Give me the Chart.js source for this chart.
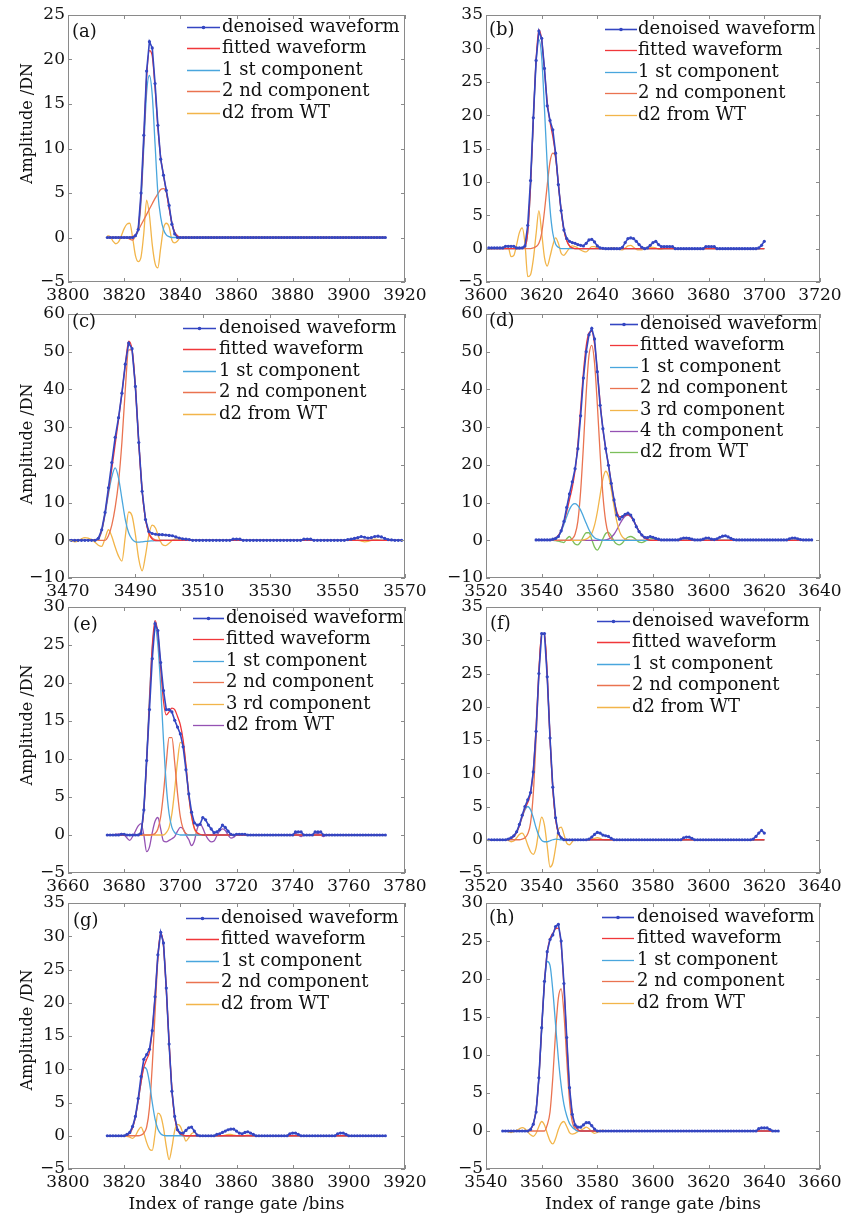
<!DOCTYPE html>
<html>
<head>
<meta charset="utf-8">
<script src="https://cdn.jsdelivr.net/npm/chart.js@4.4.0/dist/chart.umd.min.js"></script>
<style>
  body { margin: 0; background: #fff; }
  #page { position: relative; width: 842px; height: 1217px; overflow: hidden; background: #fff; }
  #page canvas { position: absolute; }
</style>
</head>
<body>
<div id="page"></div>
<script>
// ---------- data (bins / DN) ----------

const labelsStd = ['denoised waveform', 'fitted waveform', '1 st component', '2 nd component', 'd2 from WT'];
const labelsD = ['denoised waveform', 'fitted waveform', '1 st component', '2 nd component', '3 rd component', '4 th component', 'd2 from WT'];
const labelsE = ['denoised waveform', 'fitted waveform', '1 st component', '2 nd component', '3 rd component', 'd2 from WT'];

// (a)
const xTicksA = [3800, 3820, 3840, 3860, 3880, 3900, 3920];
const startA = 3814;
const denoisedA = [
  0, 0, 0, 0, 0, 0, 0, 0, 0, 0,
  0.2, 0.9, 5.0, 11.5, 18.7, 22.0, 21.3, 17.3, 12.6, 8.8,
  7.0, 5.3, 3.6, 1.5, 0.4, 0, 0, 0, 0, 0,
  0, 0, 0, 0, 0, 0, 0, 0, 0, 0,
  0, 0, 0, 0, 0, 0, 0, 0, 0, 0,
  0, 0, 0, 0, 0, 0, 0, 0, 0, 0,
  0, 0, 0, 0, 0, 0, 0, 0, 0, 0,
  0, 0, 0, 0, 0, 0, 0, 0, 0, 0,
  0, 0, 0, 0, 0, 0, 0, 0, 0, 0,
  0, 0, 0, 0, 0, 0, 0, 0, 0, 0
];
const fitA0 = 3822;
const fitA = [0, 0.1, 0.3, 1.0, 4.6, 11.0, 18.0, 21.0, 20.4, 16.8, 12.4, 9.0, 7.0, 5.2, 3.3, 1.6, 0.6, 0.2, 0];
const comp1A0 = 3823;
const comp1A = [0, 0.2, 0.8, 4.0, 10.2, 16.3, 18.2, 16.0, 10.5, 5.0, 2.3, 0.9, 0.3, 0.1, 0];
const comp2A0 = 3821;
const comp2A = [0, -0.2, -0.3, 0.2, 0.8, 1.4, 2.0, 2.6, 3.2, 3.8, 4.4, 4.9, 5.4, 5.5, 5.1, 3.4, 1.6, 0.5, 0.1, 0];
const d2A0 = 3814;
const d2A = [0.2, 0.1, -0.4, -0.7, -0.5, 0.2, 1.0, 1.5, 1.6, 0.0, -2.0, -2.7, -2.2, 0.5, 4.2, 2.5, -0.8, -2.9, -3.4, -1.2, 1.0, 1.6, 1.2, -0.3, -0.6, -0.4, 0];

// (b)  (the original axis prints "2640" for 3640)
const xTicksB = [3600, 3620, 3640, 3660, 3680, 3700, 3720];
const xLabelsB = ['3600', '3620', '2640', '3660', '3680', '3700', '3720'];
const startB = 3601;
const denoisedB = [
  0.1, 0.1, 0.1, 0.1, 0.1, 0.1, 0.35, 0.35, 0.35, 0.35,
  0.1, 0.1, 0.1, 0.4, 3.5, 10.2, 19.6, 28.2, 32.6, 31.5,
  27.0, 21.4, 19.2, 17.8, 14.3, 9.6, 5.7, 2.8, 1.5, 1.1,
  0.9, 0.8, 0.6, 0.5, 0.4, 0.8, 1.3, 1.4, 1.0, 0.4,
  0.1, 0.05, 0, 0, 0, 0, 0, 0, 0.2, 0.9,
  1.5, 1.6, 1.5, 1.1, 0.6, 0.2, 0, 0.1, 0.5, 0.9,
  1.1, 0.6, 0.3, 0.3, 0.3, 0.3, 0.3, 0, 0, 0,
  0, 0, 0, 0, 0, 0, 0, 0, 0.3, 0.3,
  0.3, 0.3, 0, 0, 0, 0, 0, 0, 0, 0,
  0, 0, 0, 0, 0, 0, 0, 0.1, 0.5, 1.1
];
const fitB0 = 3612;
const fitB = [0, 0.1, 0.3, 2.5, 9.3, 19.2, 28.3, 32.8, 31.3, 26.8, 22.0, 19.0, 16.8, 14.0, 9.7, 5.7, 2.8, 1.2, 0.4, 0.1, 0];
const comp1B0 = 3612;
const comp1B = [0, 0.1, 0.3, 2.5, 9.2, 19.0, 28.0, 31.3, 28.7, 21.0, 12.5, 6.0, 2.3, 0.7, 0.2, 0];
const comp2B0 = 3616;
const comp2B = [0, 0.1, 0.3, 0.8, 2.3, 5.6, 9.5, 13.0, 14.3, 13.6, 9.6, 5.7, 2.8, 1.2, 0.4, 0.1, 0];
const d2B0 = 3601;
const d2B = [
  0, 0, 0.1, 0.1, 0.1, 0.2, 0.3, 0.2, -1.2, -1.0,
  0.6, 2.4, 3.1, 0.8, -4.2, -3.9, -1.6, 2.2, 5.7, 2.4,
  -1.3, -2.6, -1.2, 0.5, 1.6, 0.8, -0.7, -1.0, -0.5, 0.1,
  0.4, 0.3, 0.1, -0.2, -0.4, -0.5, -0.1, 0.3, 0.3, 0.1,
  0, 0, 0, 0, 0.1, 0.1, 0, -0.1, -0.2, 0.1,
  0.4, 0.5, 0.2, -0.1, -0.2, -0.2, 0, 0.1, 0.2, 0.2,
  0.1, -0.1, -0.1, 0, 0, 0, 0, 0, 0, 0
];

// (c)
const xTicksC = [3470, 3490, 3510, 3530, 3550, 3570];
const startC = 3470;
const denoisedC = [
  0, 0, 0, 0, 0, 0, 0, 0, 0, 0.5,
  2.8, 7.4, 13.9, 20.6, 27.3, 32.5, 39.0, 46.7, 52.3, 50.8,
  40.8, 25.9, 13.0, 5.5, 2.3, 1.8, 1.6, 1.5, 1.5, 1.4,
  1.3, 1.2, 0.9, 0.6, 0.4, 0.3, 0.2, 0, 0, 0,
  0, 0, 0, 0, 0, 0, 0, 0, 0, 0.3,
  0.3, 0.3, 0, 0, 0, 0, 0, 0, 0, 0,
  0, 0, 0, 0, 0, 0, 0, 0, 0, 0,
  0.3, 0.3, 0.3, 0, 0, 0, 0, 0, 0, 0,
  0, 0, 0, 0.2, 0.3, 0.5, 0.7, 1.0, 0.8, 0.6,
  0.7, 1.0, 1.1, 0.9, 0.5, 0.2, 0.1, 0, 0, 0
];
const fitC0 = 3477;
const fitC = [0, 0.1, 0.5, 2.6, 7.2, 13.0, 19.0, 25.5, 32.0, 39.0, 46.5, 52.8, 50.5, 40.5, 26.0, 13.2, 5.6, 1.8, 0.3, -0.1, -0.1, 0];
const comp1C0 = 3477;
const comp1C = [0, 0, 0.3, 2.4, 6.8, 12.2, 16.8, 19.2, 16.5, 11.0, 5.5, 2.0, 0.3, -0.4, -0.5, -0.4, -0.3, -0.2, -0.15, -0.1, -0.1, 0];
const comp2C0 = 3480;
const comp2C = [0, 0, 1.2, 4.0, 8.7, 15.5, 26.0, 40.0, 50.5, 50.5, 40.5, 26.0, 13.2, 5.6, 2.0, 0.6, 0.1, 0];
const d2C0 = 3470;
const d2C = [
  0, -0.1, -0.4, -0.2, 0.4, 0.7, 0.6, 0.2, -0.5, -1.3,
  -1.6, 0.5, 2.8, 1.0, -1.8, -4.2, -5.5, 1.0, 7.5, 6.5,
  1.5, -5.0, -8.1, -4.0, 1.5, 4.0, 3.2, 0.6, -1.1, -1.4,
  -0.8, 0, 0.3, 0.3, 0.1, 0, 0, 0, 0, 0,
  0, 0, 0, 0, 0, 0, 0, 0, 0.1, 0.2,
  0.2, 0, 0, 0, 0, 0, 0, 0, 0, 0,
  0, 0, 0, 0, 0, 0, 0, 0, 0, 0,
  0.2, 0.1, 0, 0, 0, 0, 0, 0, 0, 0,
  0, 0, 0, 0, 0, 0, 0, -0.2, -0.4, -0.3,
  0, 0.3, 0.2, 0, 0, 0, 0, 0, 0, 0
];

// (d)
const xTicksD = [3520, 3540, 3560, 3580, 3600, 3620, 3640];
const startD = 3538;
const denoisedD = [
  0.1, 0.1, 0.1, 0.1, 0.1, 0.1, 0.3, 0.5, 1.0, 2.5,
  5.0, 8.7, 12.3, 15.5, 19.0, 24.3, 33.0, 43.0, 50.0, 54.5,
  56.2, 53.4, 44.7, 35.8, 29.6, 24.3, 19.9, 15.1, 10.7, 6.7,
  5.6, 6.3, 6.9, 7.2, 6.7, 5.4, 3.6, 2.3, 1.4, 0.8,
  0.7, 1.0, 0.8, 0.5, 0.3, 0.1, 0.1, 0.1, 0.1, 0.1,
  0.1, 0.1, 0.4, 0.6, 0.6, 0.5, 0.3, 0.1, 0.1, 0.1,
  0.3, 0.6, 0.6, 0.3, 0.2, 0.4, 0.8, 1.1, 1.2, 0.9,
  0.5, 0.2, 0.1, 0.1, 0.1, 0.1, 0.1, 0.1, 0.1, 0.1,
  0.1, 0.1, 0.1, 0.1, 0.1, 0.1, 0.1, 0.1, 0.1, 0.1,
  0.1, 0.4, 0.6, 0.6, 0.4, 0.2, 0.1, 0.1, 0.1, 0.1
];
const fitD0 = 3542;
const fitD = [0, 0.1, 0.2, 0.6, 1.3, 2.6, 4.8, 7.6, 10.8, 14.0, 18.5, 25.5, 35.0, 44.5, 51.5, 55.0, 55.4, 52.0, 45.0, 36.5,
  29.5, 24.3, 20.0, 15.2, 10.7, 7.6, 6.3, 6.3, 6.6, 6.8, 6.3, 5.2, 3.8, 2.4, 1.3, 0.6, 0.2, 0];
const comp1D0 = 3543;
const comp1D = [0, 0.1, 0.3, 1.0, 2.3, 4.2, 6.3, 8.2, 9.4, 9.7, 9.2, 8.0, 6.3, 4.5, 2.8, 1.5, 0.7, 0.3, 0.1, 0];
const comp2D0 = 3550;
const comp2D = [0, 0.4, 1.6, 5.0, 13.0, 25.0, 39.0, 49.0, 51.7, 47.0, 36.0, 23.0, 12.0, 5.0, 1.6, 0.4, 0];
const comp3D0 = 3554;
const comp3D = [0, 0.1, 0.3, 0.8, 1.8, 4.0, 7.5, 12.0, 16.3, 18.3, 17.0, 13.5, 9.0, 5.0, 2.3, 0.9, 0.3, 0.1, 0];
const comp4D0 = 3562;
const comp4D = [0, 0.1, 0.3, 0.8, 1.6, 2.8, 4.2, 5.5, 6.4, 6.7, 6.3, 5.2, 3.8, 2.4, 1.3, 0.6, 0.2, 0];
const d2D0 = 3543;
const d2D = [0, 0, -0.1, -0.2, -0.4, -0.6, 0.4, 1.0, 0.0, -1.0, -1.2, -0.4, 1.0, 2.0, 2.0, 0.2, -1.8, -2.6, -1.5, 0.4,
  1.8, 2.1, 1.2, -0.2, -1.0, -1.2, -0.7, 0.2, 0.8, 1.0, 0.7, 0.1, -0.5, -0.6, -0.3, 0.1, 0.4, 0.5, 0.2, 0];

// (e)
const xTicksE = [3660, 3680, 3700, 3720, 3740, 3760, 3780];
const startE = 3674;
const denoisedE = [
  0, 0, 0, 0, 0, 0.1, 0.1, 0, 0, 0,
  0, 0, 0.2, 3.3, 9.8, 16.5, 23.2, 27.8, 26.9, 22.7,
  19.0, 16.5, 16.5, 16.2, 15.1, 14.2, 13.3, 11.6, 8.6, 5.4,
  3.0, 1.6, 1.3, 1.4, 2.3, 2.0, 1.3, 0.8, 0.3, 0.4,
  0.7, 1.3, 1.0, 0.5, 0.1, 0, 0.1, 0.1, 0.1, 0.1,
  0, 0, 0, 0, 0, 0, 0, 0, 0, 0,
  0, 0, 0, 0, 0, 0, 0, 0.4, 0.4, 0.4,
  0, 0, 0, 0, 0.4, 0.4, 0.4, 0, 0, 0,
  0, 0, 0, 0, 0, 0, 0, 0, 0, 0,
  0, 0, 0, 0, 0, 0, 0, 0, 0, 0
];
const fitE0 = 3684;
const fitE = [0, 0.05, 0.5, 3.3, 9.6, 17.5, 24.8, 28.2, 26.5, 22.0, 17.6, 15.8, 16.2, 16.7, 16.5, 15.6, 14.5, 12.5, 9.2, 5.3, 2.5, 0.9, 0.3, 0.1, 0];
const comp1E0 = 3684;
const comp1E = [0, 0.1, 0.5, 3.5, 10.0, 18.0, 24.5, 27.3, 25.0, 19.5, 12.5, 6.5, 2.8, 1.0, 0.3, 0.1, 0];
const comp2E0 = 3689;
const comp2E = [0, 0.05, 0.2, 0.8, 2.4, 5.5, 9.5, 12.8, 12.8, 9.5, 5.5, 2.4, 0.8, 0.2, 0];
const comp3E0 = 3694;
const comp3E = [0, 0.3, 1.0, 2.8, 6.0, 9.7, 12.2, 11.9, 9.0, 5.2, 2.4, 0.8, 0.2, 0.05, 0];
const d2E0 = 3674;
const d2E = [
  0, 0, 0, 0.1, 0.1, 0.2, 0, -0.4, -0.7, -0.2,
  0.5, 1.2, 1.5, 0, -2.2, -1.6, 0.3, 1.8, 2.3, 0.8,
  -0.8, -0.9, -0.7, -0.5, -0.2, 0.5, 1.0, 0.8, 0, -0.6,
  -1.4, -0.8, 0.8, 1.5, 0.9, 0, -0.6, -0.9, -0.8, -0.1,
  0.5, 0.8, 0.6, 0, -0.4, -0.3, 0, 0, 0, 0,
  0, 0, 0, 0, 0, 0, 0, 0, 0, 0,
  0, 0, 0, 0, 0, 0, 0, 0.2, 0, -0.2,
  0, 0, 0, 0, 0.1, 0.2, 0, -0.2, 0, 0
];

// (f)
const xTicksF = [3520, 3540, 3560, 3580, 3600, 3620, 3640];
const startF = 3521;
const denoisedF = [
  0, 0, 0, 0, 0, 0, 0, 0.1, 0.3, 0.6,
  1.2, 2.3, 3.7, 5.0, 6.0, 7.1, 10.2, 16.3, 25.0, 31.0,
  31.0, 24.5, 15.3, 7.9, 3.3, 1.0, 0.3, 0, 0, 0,
  0, 0, 0, 0, 0, 0, 0.1, 0.4, 0.8, 1.1,
  1.0, 0.7, 0.6, 0.5, 0.2, 0, 0, 0, 0, 0,
  0, 0, 0, 0, 0, 0, 0, 0, 0, 0,
  0, 0, 0, 0, 0, 0, 0, 0, 0, 0,
  0.3, 0.4, 0.4, 0.2, 0, 0, 0, 0, 0, 0,
  0, 0, 0, 0, 0, 0, 0, 0, 0, 0,
  0, 0, 0, 0, 0, 0.1, 0.5, 1.0, 1.4, 1.0
];
const fitF0 = 3527;
const fitF = [0, 0.1, 0.2, 0.5, 1.1, 2.1, 3.5, 4.7, 5.6, 7.0, 10.5, 17.0, 25.3, 30.9, 30.9, 24.6, 15.3, 7.8, 3.2, 1.0, 0.3, 0.05, 0];
const comp1F0 = 3527;
const comp1F = [0, 0.1, 0.2, 0.5, 1.1, 2.1, 3.4, 4.5, 5.0, 4.5, 3.3, 1.8, 0.6, -0.1, -0.3, -0.3, -0.15, 0, 0.1, 0.05, 0];
const comp2F0 = 3532;
const comp2F = [0, 0.1, 0.3, 0.9, 2.5, 7.0, 15.3, 25.0, 31.0, 31.0, 24.8, 15.4, 7.8, 3.1, 1.0, 0.3, 0];
const d2F0 = 3521;
const d2F = [
  0, 0, 0, 0, 0, 0, 0, -0.1, -0.3, -0.2,
  0.3, 0.8, 1.0, 0.4, -0.8, -1.8, -2.2, -1.2, 1.5, 3.4,
  2.2, -1.0, -4.1, -3.5, -1.2, 1.5, 1.9, 0.8, -0.5, -0.75,
  -0.3, 0, 0, 0, 0, 0, 0, 0.1, 0.2, 0.3,
  0.2, 0, -0.1, -0.1, 0
];

// (g)
const xTicksG = [3800, 3820, 3840, 3860, 3880, 3900, 3920];
const startG = 3814;
const denoisedG = [
  0, 0, 0, 0, 0, 0, 0, 0.2, 0.5, 1.4,
  2.9, 5.6, 8.9, 11.5, 12.2, 13.0, 15.8, 20.9, 27.2, 30.6,
  29.0, 22.2, 13.8, 6.7, 2.9, 0.9, 0.4, 0.4, 0.8, 1.2,
  1.3, 0.7, 0.1, 0, 0, 0, 0, 0, 0, 0.2,
  0.3, 0.5, 0.7, 0.9, 1.0, 1.0, 0.7, 0.4, 0.3, 0.5,
  0.6, 0.4, 0.2, 0, 0, 0, 0, 0, 0, 0,
  0, 0, 0, 0, 0, 0.3, 0.4, 0.4, 0.2, 0,
  0, 0, 0, 0, 0, 0, 0, 0, 0, 0,
  0, 0, 0.3, 0.4, 0.4, 0.2, 0, 0, 0, 0,
  0, 0, 0, 0, 0, 0, 0, 0, 0, 0
];
const fitG0 = 3820;
const fitG = [0, 0.1, 0.4, 1.2, 2.8, 5.3, 8.0, 10.3, 11.5, 12.6, 15.8, 21.0, 27.0, 30.5, 28.6, 22.0, 14.0, 7.0, 2.8, 0.9, 0.3, 0.1, 0];
const comp1G0 = 3820;
const comp1G = [0, 0.1, 0.4, 1.2, 2.8, 5.2, 8.0, 10.3, 10.0, 8.0, 5.0, 2.5, 1.0, 0.3, 0.05, 0];
const comp2G0 = 3825;
const comp2G = [0, 0.1, 0.4, 1.3, 4.2, 10.5, 18.5, 26.5, 30.3, 28.5, 22.0, 14.0, 7.0, 2.8, 0.9, 0.3, 0];
const d2G0 = 3814;
const d2G = [
  0, 0, 0, 0, 0, 0, 0, -0.1, -0.2, -0.4,
  0, 0.8, 1.3, 0.4, -1.0, -2.0, -2.2, 0.3, 3.4, 3.0,
  1.2, -1.6, -3.6, -1.8, 0.8, 1.7, 1.4, 0.3, -0.8, -0.3,
  0.3, 0.5, 0.1, 0, 0, 0, 0, 0, 0, 0,
  0, 0, 0.1, 0.2, 0.2, 0.1, 0, -0.1, -0.1, 0,
  0.1, 0, 0, 0
];

// (h)
const xTicksH = [3540, 3560, 3580, 3600, 3620, 3640, 3660];
const startH = 3546;
const denoisedH = [
  0, 0, 0, 0, 0, 0, 0, 0, 0, 0,
  0.2, 0.9, 2.5, 7.0, 13.6, 19.7, 23.6, 25.2, 25.8, 26.9,
  27.2, 25.0, 19.4, 12.3, 5.7, 2.2, 0.8, 0.5, 0.5, 0.8,
  1.1, 1.1, 0.7, 0.25, 0, 0, 0, 0, 0, 0,
  0, 0, 0, 0, 0, 0, 0, 0, 0, 0,
  0, 0, 0, 0, 0, 0, 0, 0, 0, 0,
  0, 0, 0, 0, 0, 0, 0, 0, 0, 0,
  0, 0, 0, 0, 0, 0, 0, 0, 0, 0,
  0, 0, 0, 0, 0, 0, 0, 0, 0, 0,
  0, 0, 0.3, 0.4, 0.4, 0.4, 0.2, 0, 0, 0
];
const fitH0 = 3554;
const fitH = [0, 0.05, 0.2, 0.9, 2.8, 7.0, 13.5, 19.5, 23.5, 25.3, 26.0, 26.6, 26.7, 24.5, 19.0, 12.0, 5.7, 2.2, 0.7, 0.2, 0];
const comp1H0 = 3554;
const comp1H = [0, 0.05, 0.3, 1.0, 2.8, 7.0, 13.3, 19.3, 22.3, 21.8, 18.5, 14.0, 9.5, 6.0, 3.5, 2.0, 1.0, 0.5, 0.2, 0];
const comp2H0 = 3561;
const comp2H = [0, 0.8, 2.5, 7.0, 13.0, 17.5, 18.7, 15.5, 9.5, 4.0, 1.2, 0.3, 0];
const d2H0 = 3546;
const d2H = [
  0, 0, -0.1, -0.2, -0.1, 0.1, 0.3, 0.45, 0.3, -0.1,
  -0.5, -0.7, -0.3, 0.6, 1.25, 0.8, -0.3, -1.3, -1.7, -1.0,
  0.2, 1.0, 1.25, 0.6, -0.2, -0.4, -0.3, -0.1, 0.1, 0.3,
  0.5, 0.3, -0.1, -0.3, -0.2, 0, 0.1, 0
];

// ---------- styling / layout ----------
const FONT = "'DejaVu Serif', 'Liberation Serif', serif";
const TXT = '#111';
const C_DEN = '#3446c2';
const C_FIT = '#f0373a';
const C_C1 = '#49a6dd';
const C_C2 = '#ea7350';
const C_YEL = '#f2b54a';
const C_PUR = '#9552b3';
const C_GRN = '#7cbf5a';

const COLS = [
  { left: 0, width: 440, yw: 68, padR: 35 },
  { left: 421, width: 421, yw: 65, padR: 22 }
];
const ROWS = [
  { top: 15, bottom: 282, xh: 24 },
  { top: 314, bottom: 578, xh: 24 },
  { top: 607, bottom: 873, xh: 24 },
  { top: 903, bottom: 1169, xh: 48 }
];
const PAD_TOP = 12;

// leg: [x offset of sample line, y offset of first row, sample line length, text gap]
const panels = [
  { tag: '(a)', col: 0, row: 0, start: startA, den: denoisedA, labels: labelsStd,
    lines: [[fitA0, fitA, C_FIT], [comp1A0, comp1A, C_C1], [comp2A0, comp2A, C_C2], [d2A0, d2A, C_YEL]],
    xTicks: xTicksA, yMin: -5, yMax: 25, yStep: 5, leg: [119, 12, 33, 35], tagPos: [4, 17], yTitleDy: -25 },
  { tag: '(b)', col: 1, row: 0, start: startB, den: denoisedB, labels: labelsStd,
    lines: [[fitB0, fitB, C_FIT], [comp1B0, comp1B, C_C1], [comp2B0, comp2B, C_C2], [d2B0, d2B, C_YEL]],
    xTicks: xTicksB, xLabels: xLabelsB, yMin: -5, yMax: 35, yStep: 5, leg: [119, 14, 32, 33], tagPos: [3, 15] },
  { tag: '(c)', col: 0, row: 1, start: startC, den: denoisedC, labels: labelsStd,
    lines: [[fitC0, fitC, C_FIT], [comp1C0, comp1C, C_C1], [comp2C0, comp2C, C_C2], [d2C0, d2C, C_YEL]],
    xTicks: xTicksC, yMin: -10, yMax: 60, yStep: 10, leg: [115, 14, 33, 36], tagPos: [4, 8], yTitleDy: -2 },
  { tag: '(d)', col: 1, row: 1, start: startD, den: denoisedD, labels: labelsD,
    lines: [[fitD0, fitD, C_FIT], [comp1D0, comp1D, C_C1], [comp2D0, comp2D, C_C2], [comp3D0, comp3D, C_YEL],
            [comp4D0, comp4D, C_PUR], [d2D0, d2D, C_GRN]],
    xTicks: xTicksD, yMin: -10, yMax: 60, yStep: 10, leg: [124, 10, 28, 30], tagPos: [3, 7] },
  { tag: '(e)', col: 0, row: 2, start: startE, den: denoisedE, labels: labelsE,
    lines: [[fitE0, fitE, C_FIT], [comp1E0, comp1E, C_C1], [comp2E0, comp2E, C_C2], [comp3E0, comp3E, C_YEL],
            [d2E0, d2E, C_PUR]],
    xTicks: xTicksE, yMin: -5, yMax: 30, yStep: 5, leg: [125, 11, 31, 33], tagPos: [5, 18], yTitleDy: -15 },
  { tag: '(f)', col: 1, row: 2, start: startF, den: denoisedF, labels: labelsStd,
    lines: [[fitF0, fitF, C_FIT], [comp1F0, comp1F, C_C1], [comp2F0, comp2F, C_C2], [d2F0, d2F, C_YEL]],
    xTicks: xTicksF, yMin: -5, yMax: 35, yStep: 5, leg: [111, 14, 33, 35], tagPos: [4, 17] },
  { tag: '(g)', col: 0, row: 3, start: startG, den: denoisedG, labels: labelsStd,
    lines: [[fitG0, fitG, C_FIT], [comp1G0, comp1G, C_C1], [comp2G0, comp2G, C_C2], [d2G0, d2G, C_YEL]],
    xTicks: xTicksG, yMin: -5, yMax: 35, yStep: 5, leg: [118, 15, 33, 35], tagPos: [5, 18], yTitleDy: -6, xTitle: true },
  { tag: '(h)', col: 1, row: 3, start: startH, den: denoisedH, labels: labelsStd,
    lines: [[fitH0, fitH, C_FIT], [comp1H0, comp1H, C_C1], [comp2H0, comp2H, C_C2], [d2H0, d2H, C_YEL]],
    xTicks: xTicksH, yMin: -5, yMax: 30, yStep: 5, leg: [116, 14, 32, 35], tagPos: [3, 15], xTitle: true }
];

function pts(x0, vals) {
  return vals.map((v, i) => ({ x: x0 + i, y: v }));
}

// pad a short curve with its zero baseline out to the waveform's range
function padded(x0, vals, xs, xe) {
  const p = pts(x0, vals);
  if (xs < x0) p.unshift({ x: xs, y: 0 });
  if (xe > x0 + vals.length - 1) p.push({ x: xe, y: 0 });
  return p;
}

function minus(v) {
  return v < 0 ? '\u2212' + Math.abs(v) : String(v);
}

// box, inward ticks, panel tag, y title and the in-plot legend
const decorPlugin = {
  id: 'decor',
  afterDraw(chart) {
    const o = chart.options.plugins.decor;
    const { ctx, chartArea: a } = chart;
    const xs = chart.scales.x, ys = chart.scales.y;
    ctx.save();
    ctx.strokeStyle = '#8a8a8a';
    ctx.lineWidth = 1;
    ctx.strokeRect(a.left + 0.5, a.top + 0.5, a.right - a.left - 1, a.bottom - a.top - 1);
    ctx.beginPath();
    xs.ticks.forEach(t => {
      const px = Math.round(xs.getPixelForValue(t.value)) + 0.5;
      ctx.moveTo(px, a.bottom); ctx.lineTo(px, a.bottom - 4);
      ctx.moveTo(px, a.top); ctx.lineTo(px, a.top + 4);
    });
    ys.ticks.forEach(t => {
      const py = Math.round(ys.getPixelForValue(t.value)) + 0.5;
      ctx.moveTo(a.left, py); ctx.lineTo(a.left + 4, py);
      ctx.moveTo(a.right, py); ctx.lineTo(a.right - 4, py);
    });
    ctx.stroke();

    ctx.fillStyle = TXT;
    ctx.textBaseline = 'middle';
    ctx.textAlign = 'left';
    ctx.font = '18px ' + FONT;
    ctx.fillText(o.tag, a.left + o.tagPos[0], a.top + o.tagPos[1]);

    if (o.yTitleDy !== undefined) {
      ctx.save();
      ctx.font = '16px ' + FONT;
      ctx.textAlign = 'center';
      ctx.translate(28, (a.top + a.bottom) / 2 + o.yTitleDy);
      ctx.rotate(-Math.PI / 2);
      ctx.fillText('Amplitude /DN', 0, 0);
      ctx.restore();
    }

    ctx.font = '18px ' + FONT;
    const [lx, ly, len, gap] = o.leg;
    chart.data.datasets.forEach((ds, i) => {
      const x0 = a.left + lx;
      const y = Math.round(a.top + ly + i * 21.4) + 0.5;
      ctx.strokeStyle = ds.borderColor;
      ctx.lineWidth = ds.borderWidth;
      ctx.beginPath();
      ctx.moveTo(x0, y); ctx.lineTo(x0 + len, y);
      ctx.stroke();
      if (ds.pointRadius > 0) {
        ctx.fillStyle = ds.borderColor;
        ctx.beginPath();
        ctx.arc(x0 + len / 2, y, 1.8, 0, Math.PI * 2);
        ctx.fill();
      }
      ctx.fillStyle = TXT;
      ctx.fillText(ds.label, x0 + gap, y);
    });
    ctx.restore();
  }
};

const page = document.getElementById('page');

panels.forEach(p => {
  const col = COLS[p.col], row = ROWS[p.row];
  const h = PAD_TOP + (row.bottom - row.top) + row.xh;
  const canvas = document.createElement('canvas');
  canvas.width = col.width;
  canvas.height = h;
  canvas.style.left = col.left + 'px';
  canvas.style.top = (row.top - PAD_TOP) + 'px';
  canvas.style.width = col.width + 'px';
  canvas.style.height = h + 'px';
  page.appendChild(canvas);

  const xs = p.start, xe = p.start + p.den.length - 1;
  const datasets = [{
    label: p.labels[0],
    data: pts(p.start, p.den),
    borderColor: C_DEN,
    backgroundColor: C_DEN,
    borderWidth: 1.6,
    pointRadius: 1.6,
    pointBorderWidth: 0,
    pointBackgroundColor: C_DEN,
    tension: 0
  }];
  p.lines.forEach((ln, i) => {
    datasets.push({
      label: p.labels[i + 1],
      data: padded(ln[0], ln[1], xs, xe),
      borderColor: ln[2],
      borderWidth: 1.3,
      pointRadius: 0,
      cubicInterpolationMode: 'monotone'
    });
  });

  new Chart(canvas, {
    type: 'line',
    data: { datasets },
    options: {
      responsive: false,
      animation: false,
      events: [],
      layout: { padding: { left: 0, right: col.padR, top: PAD_TOP, bottom: 0 } },
      plugins: {
        legend: { display: false },
        tooltip: { enabled: false },
        decor: { tag: p.tag, tagPos: p.tagPos, leg: p.leg, yTitleDy: p.yTitleDy }
      },
      scales: {
        x: {
          type: 'linear',
          min: p.xTicks[0],
          max: p.xTicks[p.xTicks.length - 1],
          afterBuildTicks: s => { s.ticks = p.xTicks.map(v => ({ value: v })); },
          afterFit: s => { s.height = row.xh; s.paddingLeft = 0; s.paddingRight = 0; },
          grid: { display: false, drawTicks: false },
          border: { display: false },
          ticks: {
            autoSkip: false, maxRotation: 0, padding: 3, color: TXT,
            font: { family: FONT, size: 17 },
            callback: (v, i) => p.xLabels ? p.xLabels[i] : String(v)
          },
          title: {
            display: !!p.xTitle,
            text: 'Index of range gate /bins',
            color: TXT,
            font: { family: FONT, size: 17 },
            padding: { top: 0, bottom: 2 }
          }
        },
        y: {
          min: p.yMin,
          max: p.yMax,
          afterFit: s => { s.width = col.yw; s.paddingTop = 0; s.paddingBottom = 0; },
          grid: { display: false, drawTicks: false },
          border: { display: false },
          ticks: {
            stepSize: p.yStep, padding: 3, color: TXT,
            font: { family: FONT, size: 17 },
            callback: v => minus(v)
          }
        }
      }
    },
    plugins: [decorPlugin]
  });
});
</script>
</body>
</html>
